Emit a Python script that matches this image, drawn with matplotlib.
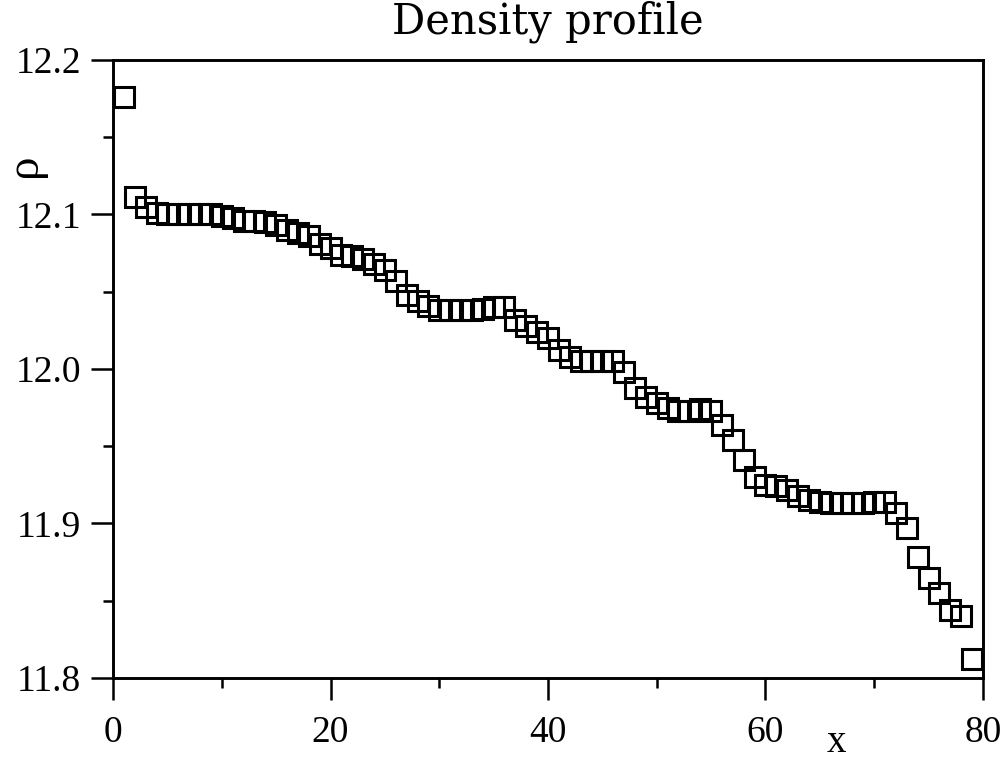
import numpy as np
import matplotlib.pyplot as plt
from matplotlib.ticker import MultipleLocator

# density profile values, one per x = 1..79
x = np.arange(1, 80)
rho = [12.176, 12.111, 12.105, 12.101, 12.100, 12.100, 12.100, 12.100, 12.100, 12.099,
       12.098, 12.096, 12.096, 12.095, 12.093, 12.090, 12.088, 12.086, 12.081, 12.078,
       12.074, 12.073, 12.071, 12.068, 12.064, 12.057, 12.048, 12.044, 12.041, 12.038,
       12.038, 12.038, 12.038, 12.039, 12.040, 12.040, 12.032, 12.028, 12.024, 12.020,
       12.012, 12.008, 12.005, 12.005, 12.005, 12.005, 11.998, 11.988, 11.982, 11.978,
       11.975, 11.973, 11.973, 11.974, 11.973, 11.964, 11.954, 11.941, 11.930, 11.925,
       11.924, 11.922, 11.918, 11.915, 11.914, 11.913, 11.913, 11.913, 11.913, 11.914,
       11.914, 11.907, 11.897, 11.878, 11.865, 11.855, 11.844, 11.840, 11.812]

xticks = [0, 20, 40, 60, 80]
yticks = [11.8, 11.9, 12.0, 12.1, 12.2]

plt.rcParams['font.family'] = ['Liberation Serif', 'DejaVu Serif']

fig = plt.figure(figsize=(10.03, 7.63), dpi=100)
ax = fig.add_axes([0.1127, 0.1114, 0.8673, 0.81])

ax.plot(x, rho, linestyle='none', marker='s', markersize=14,
        markerfacecolor='none', markeredgecolor='black', markeredgewidth=2.2,
        clip_on=False)

ax.set_xlim(0, 80)
ax.set_ylim(11.8, 12.2)
ax.set_xticks(xticks)
ax.set_xticklabels([str(v) for v in xticks])
ax.set_yticks(yticks)
ax.set_yticklabels(['%.1f' % v for v in yticks])
ax.xaxis.set_minor_locator(MultipleLocator(10))
ax.yaxis.set_minor_locator(MultipleLocator(0.05))

ax.tick_params(which='both', direction='out', top=False, right=False,
               width=1.8, labelsize=27)
ax.tick_params(which='major', length=16)
ax.tick_params(axis='x', which='major', pad=11)
ax.tick_params(axis='y', which='major', pad=7)
ax.tick_params(which='minor', length=7)
for s in ax.spines.values():
    s.set_linewidth(2.1)

ax.set_title('Density profile', fontsize=30, pad=19, family='DejaVu Serif')
# axis labels sit at odd spots in the original
ax.text(-0.102, 0.83, 'ρ', transform=ax.transAxes, rotation=90,
        fontsize=34, ha='center', va='center')
ax.text(0.832, -0.1199, 'x', transform=ax.transAxes, fontsize=28,
        ha='center', va='baseline')

plt.savefig('out.png', dpi=100)
